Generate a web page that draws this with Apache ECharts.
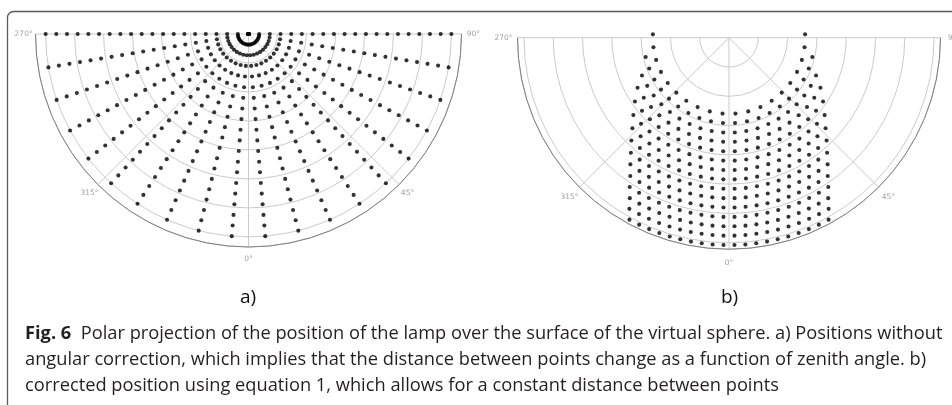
<!DOCTYPE html>
<html><head><meta charset="utf-8">
<script src="https://cdn.jsdelivr.net/npm/echarts@6/dist/echarts.min.js"></script>
<style>html,body{margin:0;padding:0;background:#fff}#c{width:952px;height:405px}</style>
</head><body><div id="c"></div>
<script>
// ---- tick labels of the angular axis (same for both panels) ----
const angleTicks = [-90, -45, 0, 45, 90];
const angleTickLabels = ['270°', '315°', '0°', '45°', '90°'];

// ---- panel a: 20 azimuths x 20 zenith angles (no angular correction) ----
const azimuthsA = [-90, -80.53, -71.05, -61.58, -52.11, -42.63, -33.16, -23.68, -14.21, -4.74,
                   4.74, 14.21, 23.68, 33.16, 42.63, 52.11, 61.58, 71.05, 80.53, 90];
const zenithsA = [0, 3.68, 7.37, 11.05, 14.74, 18.42, 22.11, 25.79, 29.47, 33.16,
                  36.84, 40.53, 44.21, 47.89, 51.58, 55.26, 58.95, 62.63, 66.32, 70];

// ---- panel b: 15 zenith rings, 20 positions each, azimuth step per ring ----
const zenithsB = [26, 29.2, 32.4, 35.6, 38.8, 42, 45.2, 48.4, 51.6, 54.8, 58, 61.2, 64.4, 67.6, 70.8];
const azStepB  = [9.74, 8.1, 7.0, 6.45, 5.88, 5.37, 4.93, 4.58, 4.26, 3.99, 3.74, 3.54, 3.34, 3.18, 3.02];
const slotOffsetsB = [-9.5, -8.5, -7.5, -6.5, -5.5, -4.5, -3.5, -2.5, -1.5, -0.5,
                      0.5, 1.5, 2.5, 3.5, 4.5, 5.5, 6.5, 7.5, 8.5, 9.5];

const captionLines = [
  ['Fig. 6', '  Polar projection of the position of the lamp over the surface of the virtual sphere. a) Positions without'],
  ['', 'angular correction, which implies that the distance between points change as a function of zenith angle. b)'],
  ['', 'corrected position using equation 1, which allows for a constant distance between points']
];
const panelLabels = ['a)', 'b)'];

// build tables
const dataA = [];
zenithsA.forEach(z => azimuthsA.forEach(a => dataA.push([z, a])));
const dataB = [];
zenithsB.forEach((z, i) => slotOffsetsB.forEach(s => dataB.push([z, s * azStepB[i]])));

const rMaxA = 73.5, rMaxB = 72.2;
const labelR_A = 77.6, labelR_B = 77.0;

const chart = echarts.init(document.getElementById('c'), null, {renderer: 'canvas'});

// caption font fitting
const ctx = document.createElement('canvas').getContext('2d');
const FONT = '"Open Sans", "Noto Sans", sans-serif';
function tw(t, s, wgt) { ctx.font = (wgt || 'normal') + ' ' + s + 'px ' + FONT; return ctx.measureText(t).width; }
const capBase = 16;
const capW = tw(captionLines[0][0], capBase, 'bold') + tw(captionLines[0][1], capBase);
const capSize = capBase * 918 / capW;

const gridColor = '#cbcbcb';
function radiusAxis(idx, max) {
  return {polarIndex: idx, type: 'value', min: 0, max: max, interval: 10,
    axisLine: {show: false}, axisTick: {show: false}, axisLabel: {show: false},
    splitLine: {show: true, lineStyle: {color: gridColor, width: 1}}};
}
function angleAxis(idx) {
  return {polarIndex: idx, type: 'value', min: -90, max: 90, interval: 45,
    startAngle: 180, endAngle: 360, clockwise: false,
    axisLine: {show: true, lineStyle: {color: '#808080', width: 1}},
    axisTick: {show: false}, axisLabel: {show: false},
    splitLine: {show: true, lineStyle: {color: gridColor, width: 1}}};
}
function labelSeries(idx, r) {
  return {type: 'scatter', coordinateSystem: 'polar', polarIndex: idx, silent: true, clip: false,
    symbolSize: 1, itemStyle: {color: 'rgba(0,0,0,0)'},
    data: angleTicks.map((v, i) => [r, v, angleTickLabels[i]]),
    label: {show: true, position: 'inside', formatter: p => p.data[2],
      color: '#8a8a8a', fontSize: 7.5, fontFamily: 'DejaVu Sans'}, z: 3};
}

const capTexts = captionLines.map((ln, i) => ({
  type: 'text', left: 25, top: 338 + i * 26 - capSize * 0.7,
  style: {text: (ln[0] ? '{b|' + ln[0] + '}' : '') + ln[1],
    font: capSize + 'px ' + FONT, fill: '#231f20',
    rich: {b: {fontWeight: 'bold', fontSize: capSize, fontFamily: FONT, fill: '#231f20'}}}
}));

chart.setOption({
  animation: false,
  backgroundColor: '#fff',
  polar: [{center: [248.5, 34], radius: 213}, {center: [729, 37.7], radius: 211.5}],
  radiusAxis: [radiusAxis(0, rMaxA), radiusAxis(1, rMaxB)],
  angleAxis: [angleAxis(0), angleAxis(1)],
  series: [
    {type: 'scatter', coordinateSystem: 'polar', polarIndex: 0, data: dataA, symbolSize: 4.1, clip: false,
      itemStyle: {color: '#000'}, z: 4},
    {type: 'scatter', coordinateSystem: 'polar', polarIndex: 1, data: dataB, symbolSize: 4.1, clip: false,
      itemStyle: {color: '#000'}, z: 4},
    labelSeries(0, labelR_A),
    labelSeries(1, labelR_B)
  ],
  graphic: [
    {type: 'rect', shape: {x: 7.5, y: 11.5, width: 1000, height: 500, r: 6},
      style: {fill: 'none', stroke: '#5a5a5a', lineWidth: 1.3}, silent: true},
    {type: 'text', x: 248, y: 298, style: {text: panelLabels[0], font: '19px ' + FONT, fill: '#111', align: 'center', verticalAlign: 'middle'}},
    {type: 'text', x: 729.5, y: 298, style: {text: panelLabels[1], font: '19px ' + FONT, fill: '#111', align: 'center', verticalAlign: 'middle'}}
  ].concat(capTexts)
});
</script></body></html>
